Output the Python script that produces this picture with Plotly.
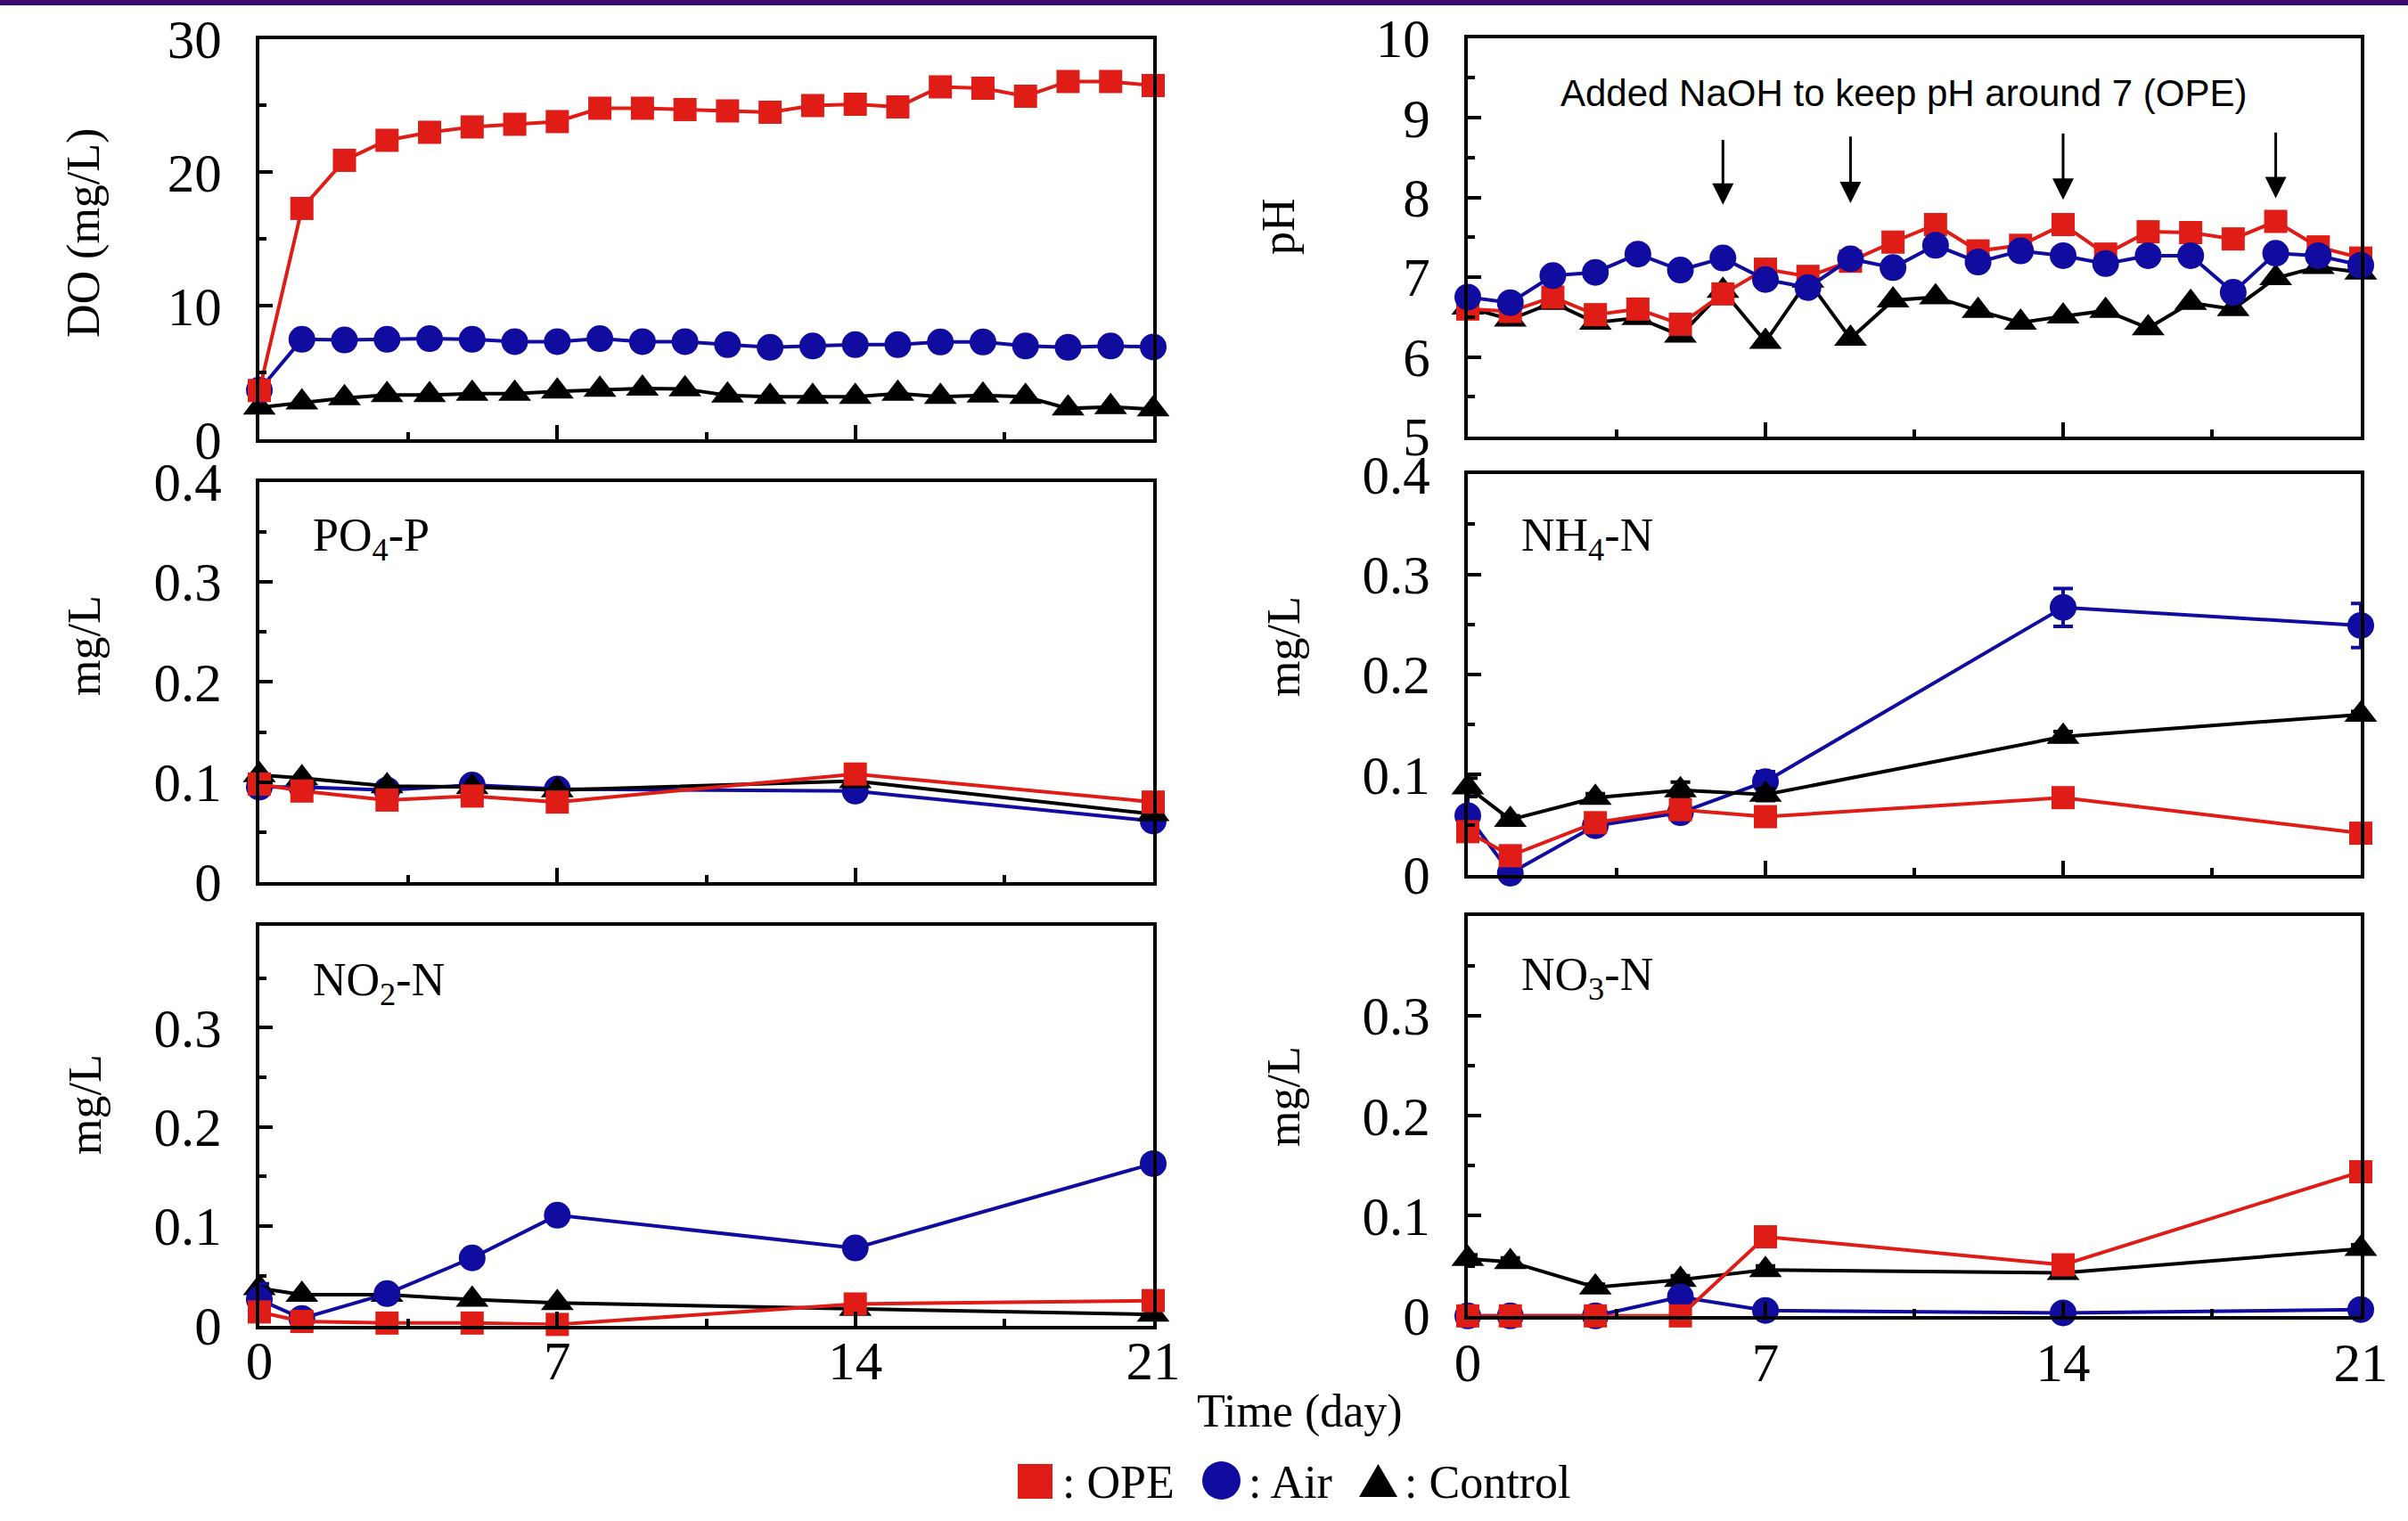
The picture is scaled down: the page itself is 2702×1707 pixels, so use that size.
import plotly.graph_objects as go

W, H = 2702, 1707

# ---------------- data ----------------
days_daily = list(range(22))
days_sample = [0, 1, 3, 5, 7, 14, 21]

do_ope = [3.67, 17.3, 20.9, 22.4, 23.0, 23.4, 23.6, 23.8, 24.8, 24.8, 24.7,
          24.6, 24.5, 25.0, 25.1, 24.9, 26.4, 26.3, 25.7, 26.8, 26.8, 26.5]
do_air = [3.7, 7.5, 7.45, 7.5, 7.55, 7.5, 7.33, 7.33, 7.55, 7.33, 7.33,
          7.1, 6.9, 7.0, 7.1, 7.1, 7.3, 7.3, 7.0, 6.9, 7.0, 6.93]
do_ctrl = [2.4, 2.78, 3.1, 3.33, 3.33, 3.44, 3.44, 3.6, 3.73, 3.82, 3.78,
           3.3, 3.2, 3.2, 3.2, 3.44, 3.2, 3.3, 3.2, 2.33, 2.44, 2.27]

ph_ope = [6.6, 6.57, 6.75, 6.53, 6.6, 6.41, 6.79, 7.1, 7.01, 7.2, 7.44,
          7.66, 7.33, 7.4, 7.66, 7.29, 7.57, 7.56, 7.48, 7.7, 7.38, 7.24]
ph_air = [6.75, 6.68, 7.02, 7.06, 7.29, 7.09, 7.24, 6.97, 6.87, 7.23, 7.12,
          7.4, 7.19, 7.33, 7.27, 7.17, 7.27, 7.27, 6.81, 7.3, 7.27, 7.15]
ph_ctrl = [6.62, 6.47, 6.68, 6.43, 6.49, 6.27, 6.83, 6.19, 6.96, 6.23, 6.71,
           6.75, 6.58, 6.43, 6.51, 6.58, 6.36, 6.68, 6.6, 6.99, 7.13, 7.06]

po4_ope = [0.098, 0.091, 0.082, 0.086, 0.080, 0.108, 0.080]
po4_air = [0.095, 0.095, 0.092, 0.097, 0.093, 0.091, 0.061]
po4_ctrl = [0.107, 0.104, 0.096, 0.095, 0.092, 0.101, 0.068]

nh4_ope = [0.043, 0.019, 0.052, 0.065, 0.058, 0.077, 0.0415]
nh4_ope_err = [0.009, 0.009, 0.009, 0.006, 0.006, 0.006, 0.007]
nh4_air = [0.059, 0.0015, 0.049, 0.062, 0.093, 0.267, 0.249]
nh4_air_err = [0.019, 0.004, 0.005, 0.004, 0.010, 0.019, 0.022]
nh4_ctrl = [0.0875, 0.055, 0.077, 0.0845, 0.080, 0.138, 0.160]
nh4_ctrl_err = [0.009, 0.004, 0.004, 0.008, 0.006, 0.005, 0.003]

no2_ope = [0.0136, 0.004, 0.0024, 0.0024, 0.001, 0.0216, 0.025]
no2_air = [0.026, 0.007, 0.032, 0.068, 0.111, 0.078, 0.163]
no2_air_err = [0.016, 0.0, 0.0, 0.0, 0.0, 0.0, 0.0]
no2_ctrl = [0.0376, 0.031, 0.031, 0.026, 0.0226, 0.0168, 0.011]

no3_ope = [0.0, 0.0, 0.0, 0.0, 0.079, 0.051, 0.144]
no3_air = [0.0, 0.0, 0.0, 0.019, 0.0054, 0.003, 0.0063]
no3_ctrl = [0.057, 0.054, 0.0286, 0.036, 0.046, 0.043, 0.067]
no3_ctrl_err = [0.004, 0.004, 0.003, 0.004, 0.004, 0.004, 0.004]

naoh_days = [6, 9, 14, 19]

legend_names = ["OPE", "Air", "Control"]

# ---------------- style ----------------
RED = "#e01c16"
BLUE = "#110ca0"
BLACK = "#000000"
SERIF = "Liberation Serif"
SANS = "Liberation Sans"


def px(x):
    return x / W


def py(y):
    return 1 - y / H


def dxd(a, b):
    return [px(a), px(b)]


def dyd(top, bottom):
    return [py(bottom), py(top)]


fig = go.Figure()

LINE_W = 4
MK = {
    "ope": dict(symbol="square", size=26, color=RED),
    "air": dict(symbol="circle", size=30, color=BLUE),
    "ctrl": dict(symbol="triangle-up", size=32, color=BLACK),
}
COL = {"ope": RED, "air": BLUE, "ctrl": BLACK}


def add(idx, x, y, kind, err=None):
    suffix = "" if idx == 1 else str(idx)
    tr = go.Scatter(
        x=x, y=y, mode="lines+markers",
        line=dict(color=COL[kind], width=LINE_W),
        marker=dict(**MK[kind], line=dict(width=0)),
        cliponaxis=False, showlegend=False,
        xaxis="x" + suffix, yaxis="y" + suffix,
    )
    if err is not None:
        tr.error_y = dict(type="data", array=err, visible=True,
                          color=COL[kind], thickness=4, width=11)
    fig.add_trace(tr)


# panel 1: DO, panel 2: pH, 3: PO4, 4: NH4, 5: NO2, 6: NO3
add(1, days_daily, do_ctrl, "ctrl")
add(1, days_daily, do_air, "air")
add(1, days_daily, do_ope, "ope")

add(2, days_daily, ph_ctrl, "ctrl")
add(2, days_daily, ph_ope, "ope")
add(2, days_daily, ph_air, "air")

add(3, days_sample, po4_air, "air")
add(3, days_sample, po4_ctrl, "ctrl")
add(3, days_sample, po4_ope, "ope")

add(4, days_sample, nh4_air, "air", nh4_air_err)
add(4, days_sample, nh4_ctrl, "ctrl", nh4_ctrl_err)
add(4, days_sample, nh4_ope, "ope", nh4_ope_err)

add(5, days_sample, no2_ctrl, "ctrl")
add(5, days_sample, no2_air, "air", no2_air_err)
add(5, days_sample, no2_ope, "ope")

add(6, days_sample, no3_ctrl, "ctrl", no3_ctrl_err)
add(6, days_sample, no3_air, "air")
add(6, days_sample, no3_ope, "ope")

LEFT = dxd(291, 1294)
RIGHT = dxd(1647, 2649)

panels = {
    1: dict(xd=LEFT, yd=dyd(43.5, 493.3), yr=[0, 30],
            yt=[0, 10, 20, 30], ytt=["0", "10", "20", "30"], ym=[5, 15, 25]),
    2: dict(xd=RIGHT, yd=dyd(42.7, 490), yr=[5, 10],
            yt=[5, 6, 7, 8, 9, 10], ytt=["5", "6", "7", "8", "9", "10"],
            ym=[5.5, 6.5, 7.5, 8.5, 9.5]),
    3: dict(xd=LEFT, yd=dyd(540.7, 990), yr=[0, 0.4],
            yt=[0, 0.1, 0.2, 0.3, 0.4], ytt=["0", "0.1", "0.2", "0.3", "0.4"],
            ym=[0.05, 0.15, 0.25, 0.35]),
    4: dict(xd=RIGHT, yd=dyd(532.3, 981.7), yr=[0, 0.4],
            yt=[0, 0.1, 0.2, 0.3, 0.4], ytt=["0", "0.1", "0.2", "0.3", "0.4"],
            ym=[0.05, 0.15, 0.25, 0.35]),
    5: dict(xd=LEFT, yd=dyd(1038.6, 1487.5), yr=[0, 0.403],
            yt=[0, 0.1, 0.2, 0.3], ytt=["0", "0.1", "0.2", "0.3"],
            ym=[0.05, 0.15, 0.25, 0.35], xso=-17),
    6: dict(xd=RIGHT, yd=dyd(1027.5, 1476.8), yr=[0, 0.4],
            yt=[0, 0.1, 0.2, 0.3], ytt=["0", "0.1", "0.2", "0.3"],
            ym=[0.05, 0.15, 0.25, 0.35], xso=-4),
}

TICKFONT = dict(family=SERIF, size=61, color="black")
layout = {}
for i, p in panels.items():
    s = "" if i == 1 else str(i)
    layout["xaxis" + s] = dict(
        domain=p["xd"], anchor="y" + s, range=[0, 21], automargin=False,
        showline=True, linecolor="black", linewidth=4, mirror=True,
        showgrid=False, zeroline=False,
        ticks="inside", ticklen=16, tickwidth=4, tickcolor="black",
        tickmode="array", tickvals=[0, 7, 14, 21], ticktext=["0", "7", "14", "21"],
        minor=dict(ticks="inside", ticklen=8, tickwidth=4, tickcolor="black",
                   tickmode="array", tickvals=[3.5, 10.5, 17.5], showgrid=False),
        showticklabels=(i in (5, 6)), tickfont=TICKFONT,
        ticklabelstandoff=p.get("xso", 0),
    )
    layout["yaxis" + s] = dict(
        domain=p["yd"], anchor="x" + s, range=p["yr"], automargin=False,
        showline=True, linecolor="black", linewidth=4, mirror=True,
        showgrid=False, zeroline=False,
        ticks="inside", ticklen=15, tickwidth=4, tickcolor="black",
        tickmode="array", tickvals=p["yt"], ticktext=p["ytt"],
        minor=dict(ticks="inside", ticklen=8, tickwidth=4, tickcolor="black",
                   tickmode="array", tickvals=p["ym"], showgrid=False),
        tickfont=TICKFONT, ticklabelstandoff=26,
    )

annotations = []


def note(text, x, y, size=52, family=SERIF, angle=0, xanchor="center", yanchor="middle"):
    annotations.append(dict(
        text=text, x=px(x), y=py(y), xref="paper", yref="paper",
        showarrow=False, textangle=angle, xanchor=xanchor, yanchor=yanchor,
        font=dict(family=family, size=size, color="black"),
    ))


# y-axis titles
note("DO (mg/L)", 94, 262, angle=-90)
note("pH", 1434, 254, angle=-90)
note("mg/L", 95, 725, angle=-90)
note("mg/L", 1440, 726, angle=-90)
note("mg/L", 95, 1240, angle=-90)
note("mg/L", 1440, 1231, angle=-90)

# panel labels
note("PO<sub>4</sub>-P", 349, 604, size=52, xanchor="left")
note("NH<sub>4</sub>-N", 1705, 604, size=52, xanchor="left")
note("NO<sub>2</sub>-N", 349, 1103, size=52, xanchor="left")
note("NO<sub>3</sub>-N", 1705, 1097, size=52, xanchor="left")

# pH annotation
note("Added NaOH to keep pH around 7 (OPE)", 2136, 104, size=42, family=SANS)

# arrows for NaOH additions
arrow_tip = [7.91, 7.93, 7.97, 7.99]
arrow_tail = [8.74, 8.78, 8.82, 8.83]
for d, t0, t1 in zip(naoh_days, arrow_tip, arrow_tail):
    annotations.append(dict(
        x=d, y=t0, ax=d, ay=t1, xref="x2", yref="y2", axref="x2", ayref="y2",
        text="", showarrow=True, arrowhead=2, arrowsize=1.6, arrowwidth=3,
        arrowcolor="black", standoff=0, startstandoff=0,
    ))

# x-axis title
note("Time (day)", 1458, 1584)

# legend texts
note(": " + legend_names[0], 1190, 1663, xanchor="left")
note(": " + legend_names[1], 1399, 1663, xanchor="left")
note(": " + legend_names[2], 1574, 1663, xanchor="left")

shapes = [
    # top bar
    dict(type="rect", xref="paper", yref="paper", x0=0, x1=1, y0=py(6), y1=1,
         fillcolor="#3a0a6a", line=dict(width=0), layer="above"),
    # legend glyphs
    dict(type="rect", xref="paper", yref="paper", x0=px(1142), x1=px(1181),
         y0=py(1682), y1=py(1643), fillcolor=RED, line=dict(width=0)),
    dict(type="circle", xref="paper", yref="paper", x0=px(1349), x1=px(1392),
         y0=py(1683), y1=py(1640), fillcolor=BLUE, line=dict(width=0)),
    dict(type="path", xref="paper", yref="paper",
         path="M %f,%f L %f,%f L %f,%f Z" % (px(1525), py(1680), px(1568), py(1680),
                                             px(1546.5), py(1643)),
         fillcolor=BLACK, line=dict(width=0)),
]

fig.update_layout(
    template="none",
    width=W, height=H,
    margin=dict(l=0, r=0, t=0, b=0, pad=0, autoexpand=False),
    paper_bgcolor="white", plot_bgcolor="white",
    showlegend=False,
    annotations=annotations,
    shapes=shapes,
    **layout,
)

fig.write_html("out.html", config={"displayModeBar": False},
               post_script="document.body.style.margin='0px';document.body.style.padding='0px';")
